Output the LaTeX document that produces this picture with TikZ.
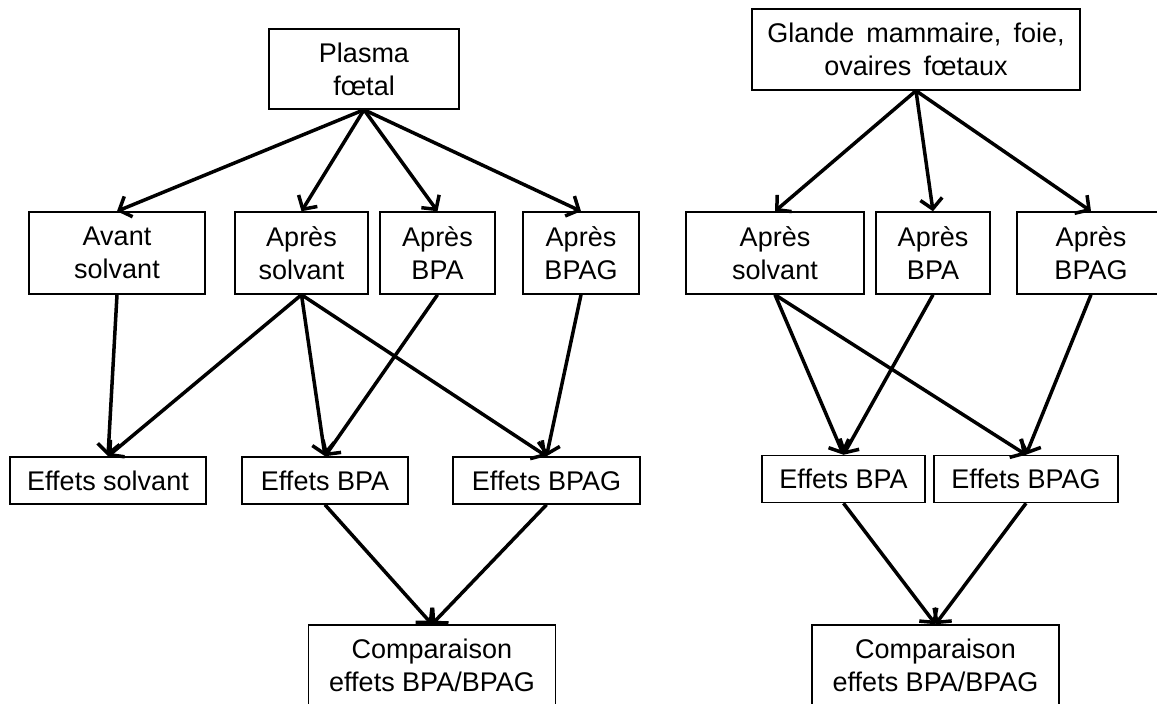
\documentclass[tikz,border=0pt]{standalone}
\usepackage{fontspec}
\setmainfont{Liberation Sans}
\usetikzlibrary{arrows.meta}
\newcommand{\widespaces}{\spaceskip=0.45em\relax}
\begin{document}
\begin{tikzpicture}[x=1pt,y=-1pt,
  box/.style={draw, line width=1.5pt, align=center, inner sep=0pt,
    font=\fontsize{27}{33}\selectfont},
  arr/.style={line width=3.5pt, -{Straight Barb[length=10pt,width=22pt]}}]
\useasboundingbox (0,0) rectangle (1157,704);
\clip (0,0) rectangle (1157,704);
% left
\node[box, minimum width=190pt, minimum height=80pt] (plasma) at (364,69) {Plasma\\fœtal};
\node[box, minimum width=176pt, minimum height=82pt] (avant) at (117,253) {Avant\\solvant};
\node[box, minimum width=133pt, minimum height=82pt] (apsol) at (301.5,253) {Après\\solvant};
\node[box, minimum width=115pt, minimum height=82pt] (apbpa) at (437.5,253) {Après\\BPA};
\node[box, minimum width=116pt, minimum height=82pt] (apbpag) at (581,253) {Après\\BPAG};
\node[box, minimum width=196pt, minimum height=47pt] (effsol) at (108,480.5) {Effets solvant};
\node[box, minimum width=166pt, minimum height=47pt] (effbpa) at (325,480.5) {Effets BPA};
\node[box, minimum width=187pt, minimum height=47pt] (effbpag) at (546.5,480.5) {Effets BPAG};
\node[box, minimum width=247pt, minimum height=80pt] (comp) at (432,665) {Comparaison\\effets BPA/BPAG};
% right
\node[box, minimum width=328pt, minimum height=81pt, font=\fontsize{27}{33}\selectfont\widespaces] (glande) at (916,49.5) {Glande mammaire, foie,\\ovaires fœtaux};
\node[box, minimum width=178pt, minimum height=82pt] (rapsol) at (775,253) {Après\\solvant};
\node[box, minimum width=114pt, minimum height=82pt] (rapbpa) at (933,253) {Après\\BPA};
\node[box, minimum width=148pt, minimum height=82pt] (rapbpag) at (1091,253) {Après\\BPAG};
\node[box, minimum width=163pt, minimum height=47pt] (reffbpa) at (843.5,479) {Effets BPA};
\node[box, minimum width=184pt, minimum height=47pt] (reffbpag) at (1026,479) {Effets BPAG};
\node[box, minimum width=247pt, minimum height=80pt] (rcomp) at (935.5,665) {Comparaison\\effets BPA/BPAG};
% left arrows
\draw[arr] (plasma.south) -- (avant.north);
\draw[arr] (plasma.south) -- (apsol.north);
\draw[arr] (plasma.south) -- (apbpa.north);
\draw[arr] (plasma.south) -- (apbpag.north);
\draw[arr] (avant.south) -- (effsol.north);
\draw[arr] (apsol.south) -- (effsol.north);
\draw[arr] (apsol.south) -- (effbpa.north);
\draw[arr] (apsol.south) -- (effbpag.north);
\draw[arr] (apbpa.south) -- (effbpa.north);
\draw[arr] (apbpag.south) -- (effbpag.north);
\draw[arr] (effbpa.south) -- (comp.north);
\draw[arr] (effbpag.south) -- (comp.north);
% right arrows
\draw[arr] (glande.south) -- (rapsol.north);
\draw[arr] (glande.south) -- (rapbpa.north);
\draw[arr] (glande.south) -- (rapbpag.north);
\draw[arr] (rapsol.south) -- (reffbpa.north);
\draw[arr] (rapsol.south) -- (reffbpag.north);
\draw[arr] (rapbpa.south) -- (reffbpa.north);
\draw[arr] (rapbpag.south) -- (reffbpag.north);
\draw[arr] (reffbpa.south) -- (rcomp.north);
\draw[arr] (reffbpag.south) -- (rcomp.north);
\end{tikzpicture}
\end{document}
